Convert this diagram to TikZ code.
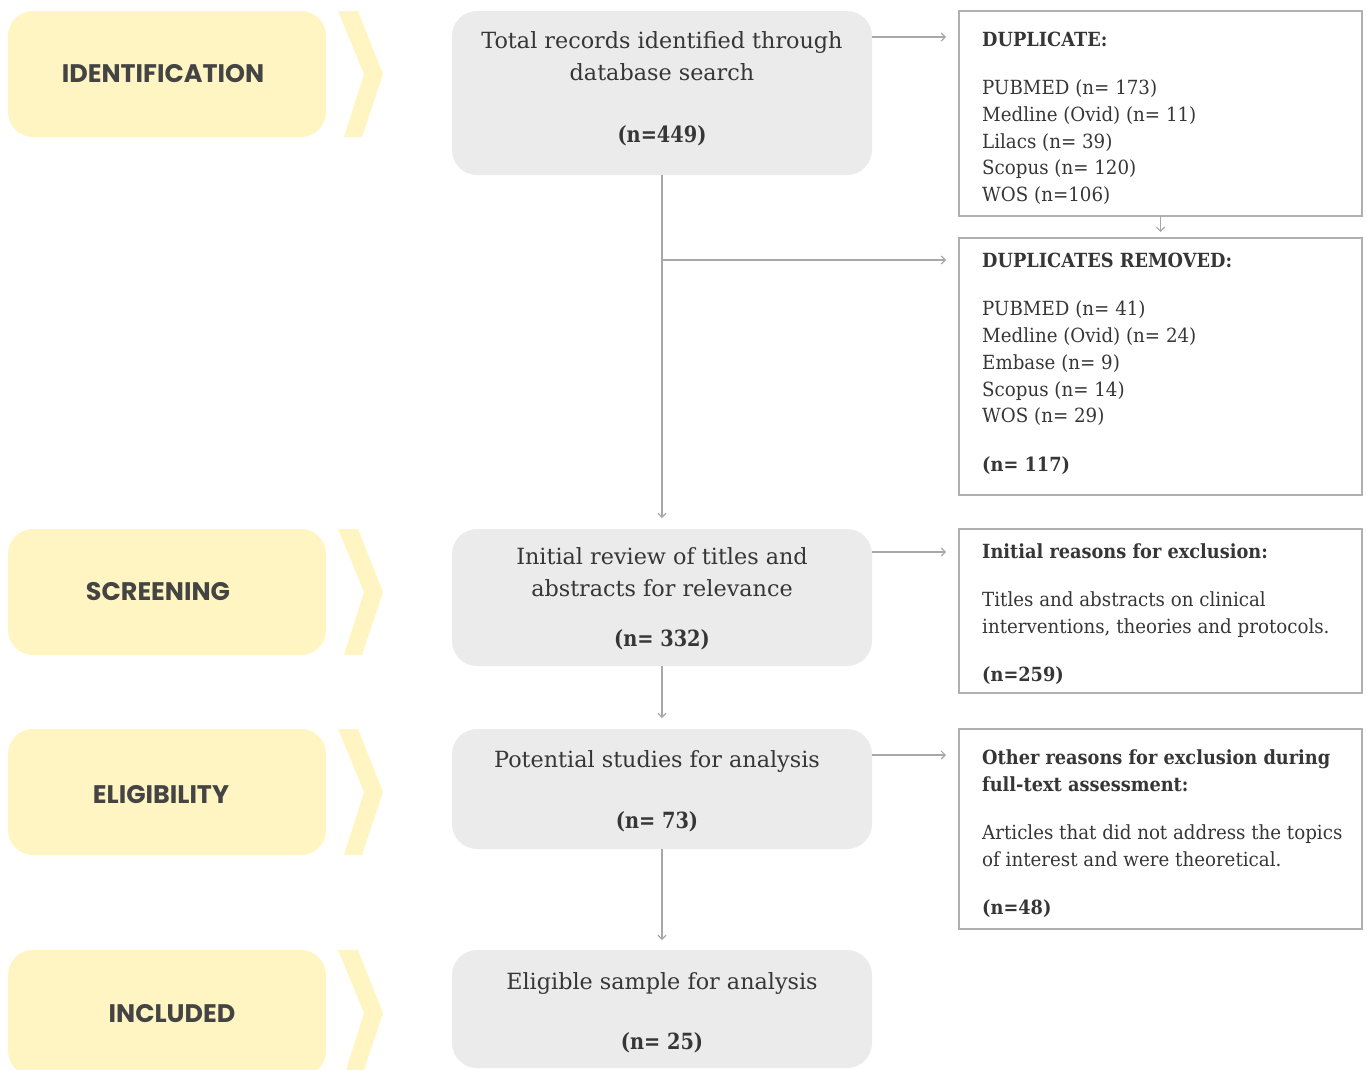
\documentclass[tikz,border=0pt]{standalone}
\usepackage{fontspec}
\setmainfont{DejaVu Serif}[FakeStretch=0.935, BoldFeatures={FakeStretch=0.91}]
\newfontfamily\grfont{DejaVu Serif}[BoldFeatures={FakeStretch=0.867}]
\newfontfamily\popfont{Poppins}
\usetikzlibrary{arrows.meta}
\definecolor{ybox}{HTML}{FFF5C2}
\definecolor{gbox}{HTML}{EBEBEB}
\definecolor{lgray}{HTML}{A8A8A8}
\definecolor{bgray}{HTML}{B0B0B0}
\definecolor{txtc}{HTML}{363636}
\definecolor{labc}{HTML}{444444}
\tikzset{
  ystage/.style={fill=ybox, draw=none, rounded corners=25pt, minimum width=318pt, minimum height=126pt, inner sep=0pt, outer sep=0pt},
  gstage/.style={fill=gbox, draw=none, rounded corners=25pt, minimum width=420pt, inner sep=0pt, outer sep=0pt},
  rbox/.style={draw=bgray, line width=1.8pt, fill=white, minimum width=403pt, inner sep=0pt, outer sep=0pt},
  chev/.style={fill=ybox, draw=none},
  lab/.style={font=\popfont\bfseries\fontsize{25.4}{30}\selectfont, text=labc, inner sep=0pt},
  mtxt/.style={font=\grfont\fontsize{22.3}{30}\selectfont, text=txtc, inner sep=0pt, anchor=base},
  stxt/.style={font=\fontsize{19.5}{27}\selectfont, text=txtc, inner sep=0pt, anchor=base west},
  arr/.style={draw=lgray, line width=1.5pt, -{Straight Barb[length=4pt,width=8pt,line width=1.2pt]}},
}
\begin{document}
\begin{tikzpicture}[x=1pt,y=-1pt]
\useasboundingbox (0,0) rectangle (1367,1069);
% yellow stage boxes
\node[ystage] (y1) at (167,74) {};
\node[ystage] (y2) at (167,592) {};
\node[ystage] (y3) at (167,792) {};
\node[ystage] (y4) at (167,1013) {};
\foreach \t in {11,529,729,950}{
  \fill[chev] (338,\t) -- (358,\t) -- (383,\t+63) -- (362,\t+126) -- (344,\t+126) -- (364,\t+63) -- cycle;
}
\node[lab] (l1) at (163,74) {IDENTIFICATION};
\node[lab] (l2) at (158,592) {SCREENING};
\node[lab] (l3) at (161,795) {ELIGIBILITY};
\node[lab] (l4) at (172,1014) {INCLUDED};
% grey boxes
\node[gstage, minimum height=164pt] (g1) at (662,93) {};
\node[gstage, minimum height=137pt] (g2) at (662,597.5) {};
\node[gstage, minimum height=120pt] (g3) at (662,789) {};
\node[gstage, minimum height=118pt] (g4) at (662,1009) {};
\node[mtxt] (g1a) at (662,48) {Total records identified through};
\node[mtxt] (g1b) at (662,80) {database search};
\node[mtxt] (g1c) at (662,142) {\textbf{(n=449)}};
\node[mtxt] (g2a) at (662,564) {Initial review of titles and};
\node[mtxt] (g2b) at (662,596) {abstracts for relevance};
\node[mtxt] (g2c) at (662,646) {\textbf{(n= 332)}};
\node[mtxt] (g3a) at (657,767) {Potential studies for analysis};
\node[mtxt] (g3b) at (657,828) {\textbf{(n= 73)}};
\node[mtxt] (g4a) at (662,989) {Eligible sample for analysis};
\node[mtxt] (g4b) at (662,1049) {\textbf{(n= 25)}};
% right boxes
\node[rbox, minimum height=205pt] (r1) at (1160.5,113.5) {};
\node[rbox, minimum height=257pt] (r2) at (1160.5,366.5) {};
\node[rbox, minimum height=164pt] (r3) at (1160.5,611) {};
\node[rbox, minimum height=200pt] (r4) at (1160.5,829) {};
\node[stxt] (r1a) at (982,46) {\textbf{DUPLICATE:}};
\node[stxt] (r1b) at (982,94) {PUBMED (n= 173)};
\node[stxt] (r1c) at (982,121) {Medline (Ovid) (n= 11)};
\node[stxt] (r1d) at (982,148) {Lilacs (n= 39)};
\node[stxt] (r1e) at (982,174) {Scopus (n= 120)};
\node[stxt] (r1f) at (982,201) {WOS (n=106)};
\node[stxt] (r2a) at (982,267) {\textbf{DUPLICATES REMOVED:}};
\node[stxt] (r2b) at (982,315) {PUBMED (n= 41)};
\node[stxt] (r2c) at (982,342) {Medline (Ovid) (n= 24)};
\node[stxt] (r2d) at (982,369) {Embase (n= 9)};
\node[stxt] (r2e) at (982,396) {Scopus (n= 14)};
\node[stxt] (r2f) at (982,422) {WOS (n= 29)};
\node[stxt] (r2g) at (982,471) {\textbf{(n= 117)}};
\node[stxt] (r3a) at (982,558) {\textbf{Initial reasons for exclusion:}};
\node[stxt] (r3b) at (982,606) {Titles and abstracts on clinical};
\node[stxt] (r3c) at (982,633) {interventions, theories and protocols.};
\node[stxt] (r3d) at (982,681) {\textbf{(n=259)}};
\node[stxt] (r4a) at (982,764) {\textbf{Other reasons for exclusion during}};
\node[stxt] (r4b) at (982,791) {\textbf{full-text assessment:}};
\node[stxt] (r4c) at (982,839) {Articles that did not address the topics};
\node[stxt] (r4d) at (982,866) {of interest and were theoretical.};
\node[stxt] (r4e) at (982,914) {\textbf{(n=48)}};
% connectors
\coordinate (br) at (662,260);
\coordinate (s1) at ([yshift=-26pt]g1.north east);
\coordinate (s2) at ([yshift=-23pt]g2.north east);
\coordinate (s3) at ([yshift=-26pt]g3.north east);
\draw[arr, shorten >=13pt] (s1) -- (s1 -| r1.west);
\draw[arr] (g1.south) -- ([yshift=11pt]g2.north);
\draw[arr, shorten >=13pt] (br) -- (br -| r2.west);
\draw[arr] (r1.south) -- ([yshift=6pt]r2.north);
\draw[arr, shorten >=13pt] (s2) -- (s2 -| r3.west);
\draw[arr] (g2.south) -- ([yshift=11pt]g3.north);
\draw[arr, shorten >=13pt] (s3) -- (s3 -| r4.west);
\draw[arr] (g3.south) -- ([yshift=10pt]g4.north);
\end{tikzpicture}
\end{document}
